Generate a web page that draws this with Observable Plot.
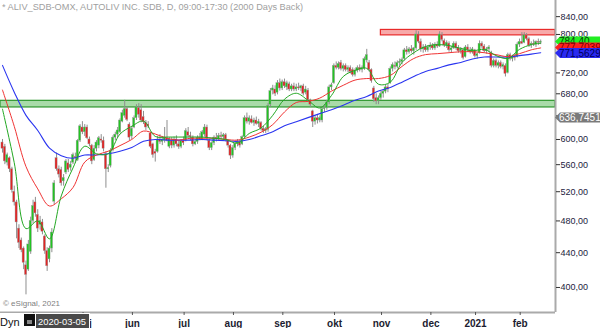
<!DOCTYPE html>
<html><head><meta charset="utf-8">
<script src="https://cdn.jsdelivr.net/npm/d3@7"></script>
<script src="https://cdn.jsdelivr.net/npm/@observablehq/plot@0.6"></script>
<style>html,body{margin:0;padding:0;background:#fff;overflow:hidden}</style>
</head><body><div id="chart"></div>
<script>
// ---- data ----
const opens=[595,588,563,570,553,520,505,470,455,445,425,420,441,480,505,488,475,478,460,442,432,445,506,570,553,552,535,548,562,555,563,572,567,598,620,612,620,600,590,567,585,590,600,598,576,553,558,583,603,608,612,630,640,652,625,605,620,636,654,650,638,628,625,610,592,580,580,600,596,598,602,588,598,590,600,592,588,597,598,612,606,603,592,596,603,600,608,620,598,586,594,603,600,606,604,607,598,590,574,586,593,596,592,604,636,630,634,628,632,626,628,618,614,616,660,686,688,682,700,690,702,692,698,688,694,688,692,690,694,682,686,668,648,630,636,632,632,652,654,664,692,700,734,730,740,728,734,726,730,726,716,724,730,726,728,745,740,726,690,672,666,672,680,684,692,700,728,734,732,740,742,748,766,762,768,764,770,800,784,768,772,766,772,776,770,778,774,798,786,776,780,766,770,780,770,764,766,752,772,766,762,766,754,760,780,774,764,768,760,734,744,734,740,732,734,720,756,748,752,752,778,784,782,798,790,776,780,778,784,782];
const highs=[600,592,578,572,556,528,508,475,458,447,430,455,485,508,512,495,486,482,462,446,448,470,536,578,558,556,545,568,568,565,578,578,600,625,630,625,624,604,592,590,598,605,608,604,580,560,585,606,612,620,635,650,668,656,628,622,640,660,662,660,648,632,630,612,594,584,605,608,605,620,632,603,603,604,606,598,600,604,618,620,612,606,600,606,610,615,625,624,600,596,606,610,610,612,610,610,600,592,590,596,600,598,606,640,645,640,640,636,638,634,630,622,620,662,690,696,695,705,708,706,708,704,702,698,700,698,700,696,698,694,690,670,650,640,642,640,655,660,668,696,700,738,742,742,745,738,738,734,734,730,728,734,736,734,752,768,745,728,694,680,676,684,688,696,698,732,740,742,744,748,750,770,774,772,776,772,808,806,790,778,778,776,782,780,782,784,806,804,790,786,784,774,784,784,776,772,770,776,778,772,772,768,760,786,784,778,772,776,764,748,748,744,744,740,738,760,760,756,758,782,790,804,804,802,794,784,788,786,790,788];
const lows=[578,560,558,548,518,500,457,445,440,420,392,418,438,476,485,465,468,462,438,418,428,440,502,550,540,528,528,545,548,550,560,562,565,595,608,605,600,588,560,565,580,585,594,580,525,548,555,580,598,603,610,628,636,630,598,600,618,632,636,628,625,615,618,585,570,564,578,592,590,594,596,585,585,586,588,584,585,590,596,603,598,588,590,592,598,598,604,598,582,582,590,596,598,600,598,596,586,568,570,582,588,586,590,602,626,624,626,622,624,620,614,610,610,612,656,678,675,678,685,686,690,686,684,684,684,684,686,684,676,678,664,655,620,624,626,628,628,646,650,660,686,698,726,726,724,722,722,720,718,712,712,720,722,720,725,740,722,700,664,660,660,668,672,680,682,698,722,726,728,734,736,744,756,758,760,756,766,780,762,760,762,762,766,766,766,770,772,784,772,770,762,760,768,766,760,758,746,750,762,758,758,750,748,758,770,760,758,762,730,730,730,728,728,726,712,718,744,742,744,750,772,778,780,786,772,770,774,772,776,778];
const closes=[585,565,575,553,522,505,478,452,443,428,414,450,480,500,490,470,480,466,442,424,445,465,532,553,545,532,540,565,552,560,575,570,598,622,612,620,602,592,565,585,595,602,598,585,553,555,582,603,608,615,632,645,652,633,603,618,636,655,642,632,629,620,622,588,575,577,600,596,600,603,598,600,590,600,592,588,597,594,614,606,604,592,596,603,600,612,620,602,586,594,603,600,606,604,607,600,590,574,586,593,596,590,604,636,630,636,628,632,626,630,618,614,617,658,685,690,680,700,690,702,694,700,688,694,688,692,690,694,680,688,668,660,630,636,632,636,652,654,664,692,696,734,730,738,728,734,726,730,722,716,724,730,726,730,748,756,726,704,670,666,672,680,684,692,688,728,736,732,740,742,746,766,762,768,764,770,800,784,768,772,766,772,776,770,778,774,800,788,776,782,766,770,780,770,764,768,750,772,766,762,768,754,758,780,774,764,768,772,734,744,734,740,732,736,718,756,748,752,750,778,784,780,798,790,776,780,778,784,782,784.4];
// moving averages, read every 5 bars
const maIdx=[0,5,10,15,20,25,30,35,40,45,50,55,60,65,70,75,80,85,90,95,100,105,110,115,120,125,130,135,140,145,150,155,160,165,170,175,180,185,190,195,200,205,210,215,220,225,229];
const maFast=[652,563,470,480,457,514,555,589,577,577,609,622,631,605,604,604,604,604,602,600,594,610,619,641,670,681,668,654,677,713,725,729,698,702,741,761,774,778,776,770,765,768,755,749,768,778,781];
const maMid=[687,622,557,524,500,510,526,564,575,581,590,600,614,609,602,599,602,602,602,600,599,604,612,625,647,664,666,672,685,696,706,709,709,715,733,749,757,759,761,763,763,761,757,753,759,767,771];
const maSlow=[735,683,641,615,586,574,570,575,575,577,581,587,597,600,599,599,599,600,599,598,597,600,606,613,623,630,637,644,651,659,668,675,685,692,702,713,723,729,736,741,748,752,752,752,755,758,761];
// horizontal zones
const zoneLow=[655,798], zoneHigh=[667,810], zoneFrom=[-0.85,161];
// axis ticks
const yTicks=[400,440,480,520,560,600,640,680,720,760,800,840];
const monthIdx=[12,33,54,76,97,118,140,160,181,200,219];
const monthLabels=["apr","maj","jun","jul","aug","sep","okt","nov","dec","2021","feb"];
// last-value tags
const tagText=["784,40","777,7039","771,5629","636,7451"];
const tagValue=[784.4,777.7,771.56,636.75];

const candles=closes.map((c,i)=>({i,o:opens[i],h:highs[i],l:lows[i],c}));
const mk=arr=>maIdx.map((i,k)=>({i,v:arr[k]}));
const zones=zoneLow.map((lo,k)=>({x1:zoneFrom[k],x2:235.3,lo,hi:zoneHigh[k],k}));
const X0=-0.85,X1=235.3;
const FONT="'Liberation Sans',Arial,sans-serif";

const plot=Plot.plot({
  width:600,height:328,marginLeft:0,marginRight:45,marginTop:0,marginBottom:16,
  style:{fontFamily:FONT,background:"#fff",color:"#1c1c30"},
  x:{type:"linear",domain:[X0,X1],axis:null},
  y:{type:"log",domain:[373.5,878],axis:null},
  marks:[
    Plot.rect(zones,{x1:"x1",x2:"x2",y1:"lo",y2:"hi",fill:d=>d.k?"#f7a9a9":"#a9dba9",stroke:d=>d.k?"#e82a2a":"#2e962e",strokeWidth:1.2}),
    Plot.ruleX(candles,{x:"i",y1:"l",y2:"h",stroke:"#8e8e8e",strokeWidth:1}),
    Plot.rect(candles,{x1:d=>d.i-0.45,x2:d=>d.i+0.45,y1:"o",y2:"c",fill:d=>d.c>=d.o?"#22c422":"#e02424",stroke:"#9a9a9a",strokeWidth:0.4}),
    Plot.line(mk(maSlow),{x:"i",y:"v",stroke:"#2a35f0",strokeWidth:1.1,curve:"catmull-rom"}),
    Plot.line(mk(maMid),{x:"i",y:"v",stroke:"#f03434",strokeWidth:1,curve:"catmull-rom"}),
    Plot.line(mk(maFast),{x:"i",y:"v",stroke:"#23a823",strokeWidth:1,curve:"catmull-rom"}),
    Plot.ruleX([X1],{stroke:"#aaaaaa",strokeWidth:2}),
    Plot.ruleY([373.5],{x1:X0,x2:X1,stroke:"#aaaaaa",strokeWidth:2}),
    Plot.axisY({anchor:"right",ticks:yTicks,tickSize:4,tickPadding:1,stroke:"#333",
      tickFormat:v=>v.toFixed(2).replace(".",","),fontSize:9,fill:"#1c1c40"}),
    Plot.axisX({anchor:"bottom",ticks:monthIdx,tickSize:3,tickPadding:4,stroke:"#555",
      tickFormat:v=>monthLabels[monthIdx.indexOf(v)],fontSize:10,fontWeight:"bold",fill:"#1c1c30",dx:3})
  ]
});
document.getElementById("chart").appendChild(plot);

const svg=d3.select(plot);
const txt=(x,y,size,fill,s)=>svg.append("text").attr("x",x).attr("y",y).attr("font-size",size)
  .attr("fill",fill).attr("font-family",FONT).attr("text-anchor","start").text(s);
// value tags at right (clipped at the right edge, as in the original)
const clip=svg.append("clipPath").attr("id","tagclip");
clip.append("rect").attr("x",550).attr("y",0).attr("width",50).attr("height",328);
const tags=svg.append("g").attr("clip-path","url(#tagclip)");
const tagColors=[["#22ee22","#0a3a0a"],["#ff2020","#7a0000"],["#2a2af0","#00005a"],["#7a7a7a","#ffffff"]];
const tagY=[41.5,47.5,53,117.5];
tagValue.forEach((v,k)=>{
  const yy=tagY[k];
  tags.append("path").attr("d",`M555,${yy} L560,${yy-5} L600,${yy-5} L600,${yy+5} L560,${yy+5} Z`).attr("fill",tagColors[k][0]);
  tags.append("text").attr("x",559).attr("y",yy+3.6).attr("font-size",10).attr("fill",tagColors[k][1])
    .attr("font-family",FONT).attr("text-anchor","start").text(tagText[k]);
});
// title & credit
txt(2,10,9.2,"#a0a0a0","* ALIV_SDB-OMX, AUTOLIV INC. SDB, D, 09:00-17:30 (2000 Days Back)");
txt(3,306,8,"#808080","© eSignal, 2021");
// bottom-left widgets
svg.append("rect").attr("x",0).attr("y",313).attr("width",90).attr("height",15).attr("fill","#fff");
txt(0,326,11,"#111","Dyn");
svg.append("rect").attr("x",24).attr("y",314).attr("width",11).attr("height",12).attr("fill","#111");
svg.append("rect").attr("x",27).attr("y",320).attr("width",5).attr("height",4).attr("fill","#888");
svg.append("rect").attr("x",36).attr("y",314).attr("width",53).attr("height",14).attr("fill","#4a4a4a");
txt(38,325,9.4,"#fff","2020-03-05");
</script></body></html>
